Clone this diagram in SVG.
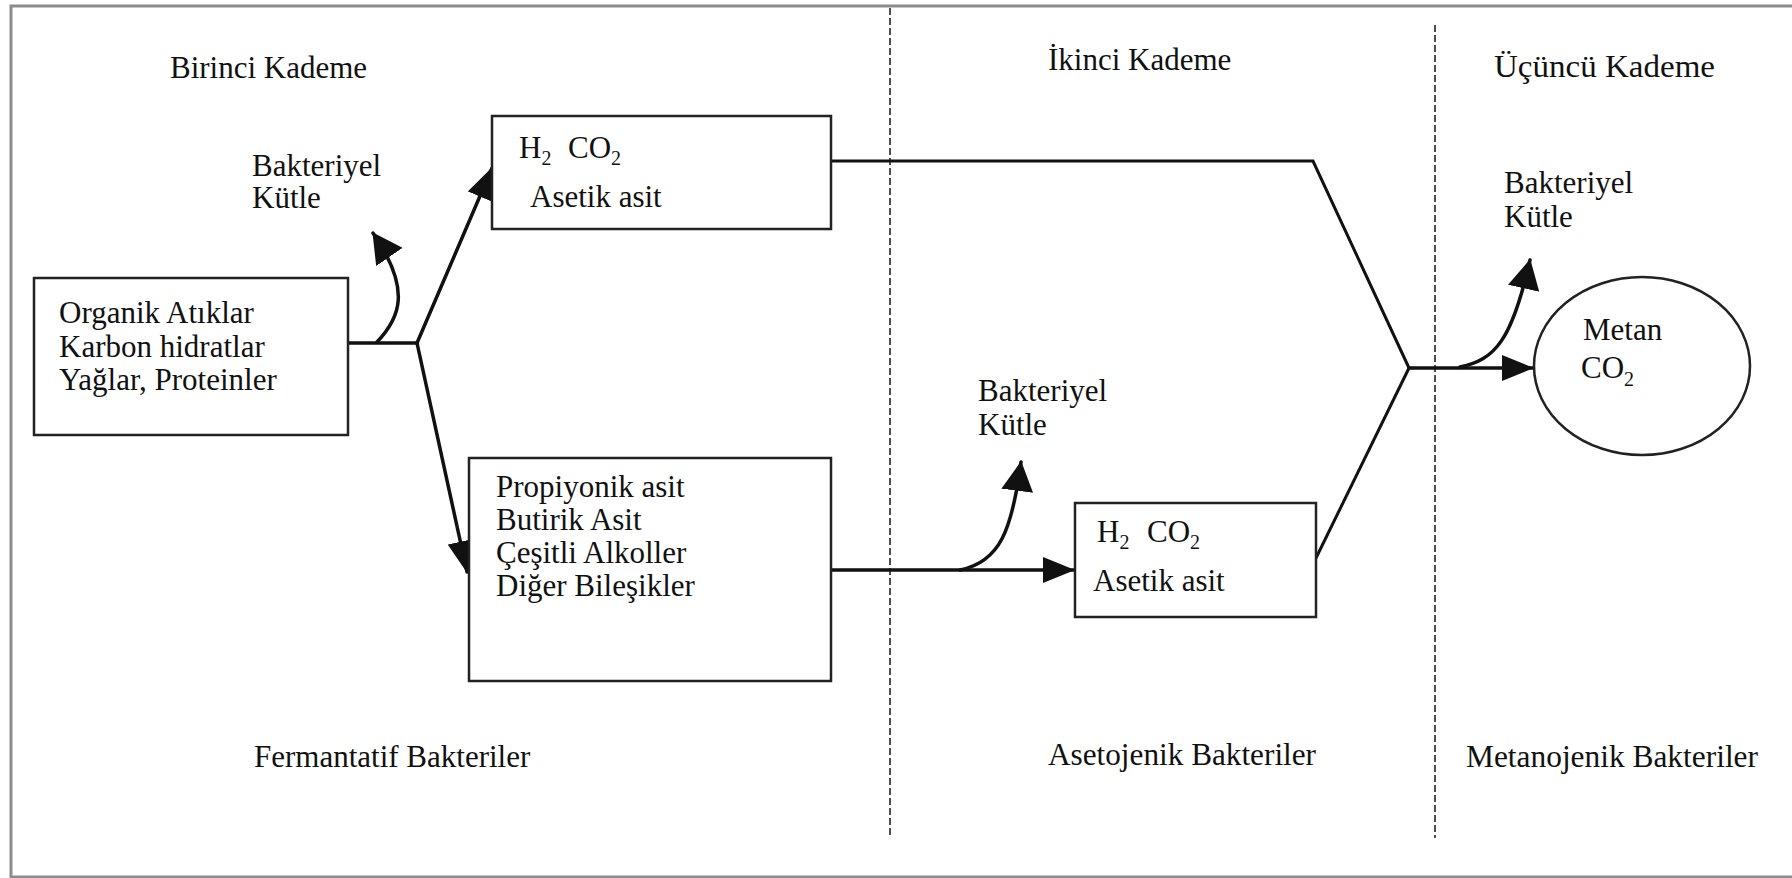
<svg xmlns="http://www.w3.org/2000/svg" width="1792" height="878" viewBox="0 0 1792 878">
<defs>
<style>
.t{font-family:"Liberation Serif","Times New Roman",serif;font-size:31px;fill:#111}
.s{font-size:20px}
.box{fill:#fff;stroke:#222;stroke-width:2.5}
.ln{fill:none;stroke:#111;stroke-width:3.5;stroke-linecap:round}
.thin{fill:none;stroke:#111;stroke-width:3}
.dash{fill:none;stroke:#222;stroke-width:1.6;stroke-dasharray:7 3}
</style>
<marker id="ah" markerUnits="userSpaceOnUse" viewBox="0 0 32 26" refX="31" refY="13" markerWidth="32" markerHeight="26" orient="auto">
<path d="M0,0 L32,13 L0,26 z" fill="#111"/>
</marker>
<marker id="ahc" markerUnits="userSpaceOnUse" viewBox="0 0 30 32" refX="29" refY="16" markerWidth="30" markerHeight="32" orient="auto">
<path d="M0,0 L30,16 L0,32 z" fill="#111"/>
</marker>
</defs>
<rect x="0" y="0" width="1792" height="878" fill="#fff"/>
<rect x="11" y="6" width="1795" height="871" fill="none" stroke="#8c8c8c" stroke-width="3"/>
<g id="dividers">
<line class="dash" x1="890" y1="8" x2="890" y2="838"/>
<line class="dash" x1="1435" y1="25" x2="1435" y2="838"/>
</g>
<g id="stage-labels">
<text class="t" x="170" y="78">Birinci Kademe</text>
<text class="t" x="1048" y="70">İkinci Kademe</text>
<text class="t" x="1494" y="77" textLength="221" lengthAdjust="spacingAndGlyphs">Üçüncü Kademe</text>
<text class="t" x="254" y="767">Fermantatif Bakteriler</text>
<text class="t" x="1048" y="765" textLength="268" lengthAdjust="spacingAndGlyphs">Asetojenik Bakteriler</text>
<text class="t" x="1466" y="767" textLength="292" lengthAdjust="spacingAndGlyphs">Metanojenik Bakteriler</text>
</g>
<g id="connectors">
<line class="ln" x1="348" y1="343" x2="417" y2="343"/>
<line class="ln" x1="417" y1="343" x2="492" y2="168" marker-end="url(#ah)"/>
<line class="ln" x1="417" y1="343" x2="467" y2="572" marker-end="url(#ah)"/>
<path class="ln" d="M377,342 C400,318 412,290 373,233" marker-end="url(#ahc)"/>
<line class="ln" x1="831" y1="570" x2="1074" y2="570" marker-end="url(#ah)"/>
<path class="ln" d="M960,570 C1000,562 1012,530 1021,462" marker-end="url(#ahc)"/>
<polyline class="thin" points="831,161 1313,161 1409,368"/>
<line class="thin" x1="1316" y1="558" x2="1409" y2="368"/>
<line class="ln" x1="1409" y1="368" x2="1533" y2="368" marker-end="url(#ah)"/>
<path class="ln" d="M1460,367 C1495,360 1512,340 1530,260" marker-end="url(#ahc)"/>
</g>
<g id="organik">
<rect class="box" x="34" y="278" width="314" height="157"/>
<text class="t" x="59" y="323">Organik Atıklar</text>
<text class="t" x="59" y="357">Karbon hidratlar</text>
<text class="t" x="59" y="390">Yağlar, Proteinler</text>
</g>
<g id="bakteriyel-1">
<text class="t" x="252" y="176">Bakteriyel</text>
<text class="t" x="252" y="208">Kütle</text>
</g>
<g id="h2co2-1">
<rect class="box" x="492" y="116" width="339" height="113"/>
<text class="t" x="519" y="158">H<tspan class="s" dy="7">2</tspan></text>
<text class="t" x="568" y="158">CO<tspan class="s" dy="7">2</tspan></text>
<text class="t" x="530" y="207">Asetik asit</text>
</g>
<g id="asitler">
<rect class="box" x="469" y="458" width="362" height="223"/>
<text class="t" x="496" y="497">Propiyonik asit</text>
<text class="t" x="496" y="530">Butirik Asit</text>
<text class="t" x="496" y="563">Çeşitli Alkoller</text>
<text class="t" x="496" y="596">Diğer Bileşikler</text>
</g>
<g id="bakteriyel-2">
<text class="t" x="978" y="401">Bakteriyel</text>
<text class="t" x="978" y="435">Kütle</text>
</g>
<g id="h2co2-2">
<rect class="box" x="1075" y="503" width="241" height="114"/>
<text class="t" x="1097" y="542">H<tspan class="s" dy="7">2</tspan></text>
<text class="t" x="1147" y="542">CO<tspan class="s" dy="7">2</tspan></text>
<text class="t" x="1093" y="591">Asetik asit</text>
</g>
<g id="bakteriyel-3">
<text class="t" x="1504" y="193">Bakteriyel</text>
<text class="t" x="1504" y="227">Kütle</text>
</g>
<g id="metan">
<ellipse cx="1642" cy="366" rx="108" ry="89" fill="none" stroke="#222" stroke-width="2.5"/>
<text class="t" x="1583" y="340">Metan</text>
<text class="t" x="1581" y="378">CO<tspan class="s" dy="8">2</tspan></text>
</g>
</svg>
